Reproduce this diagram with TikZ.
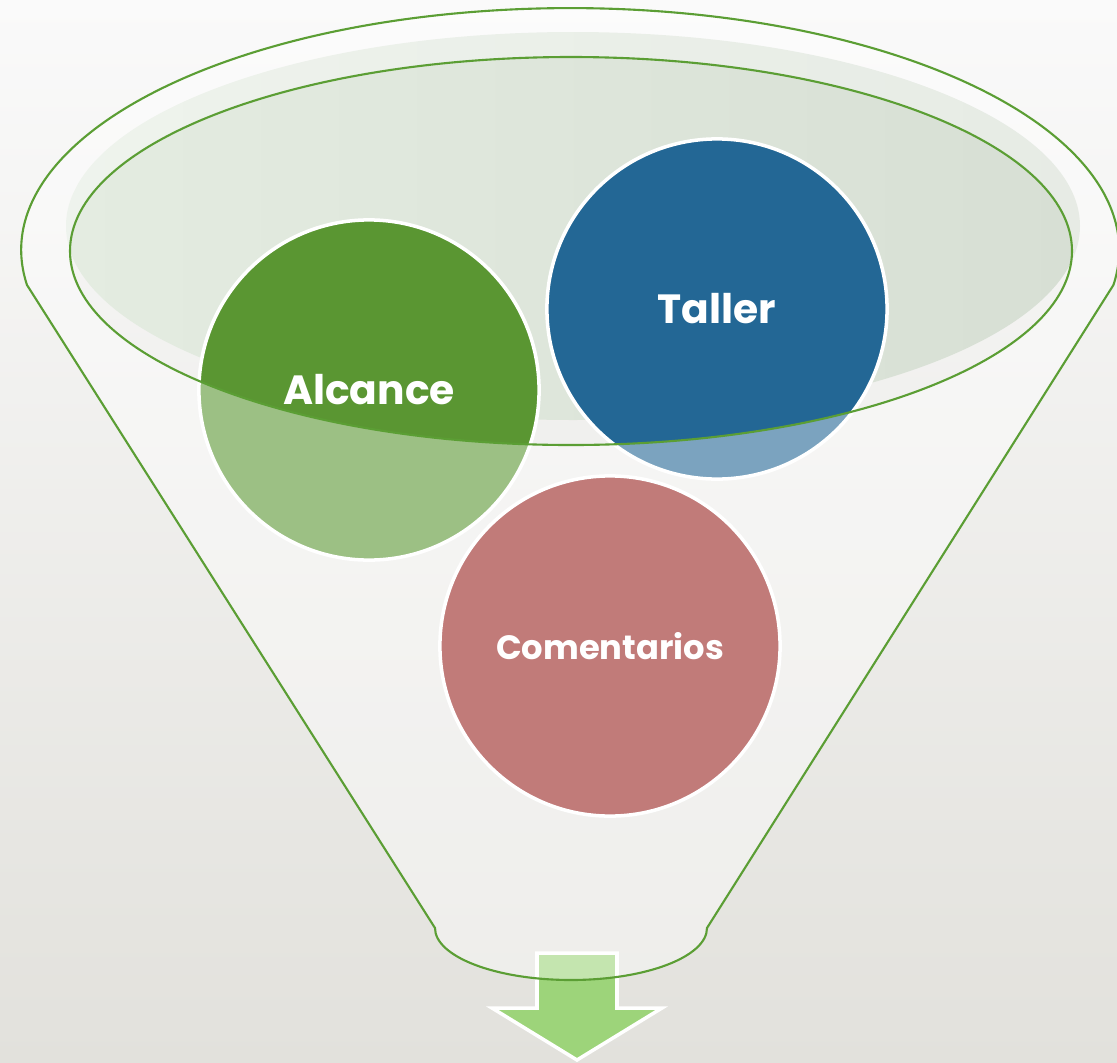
\documentclass[tikz,border=0pt]{standalone}
\usepackage{fontspec}
\setmainfont{Poppins}

\definecolor{bgtop}{HTML}{FAFAFA}
\definecolor{bgbot}{HTML}{E2E1DC}
\definecolor{openl}{HTML}{E4ECE1}
\definecolor{openr}{HTML}{D7DFD4}
\definecolor{rimgreen}{HTML}{5B9E34}
\definecolor{alcgreen}{HTML}{5A9632}
\definecolor{talblue}{HTML}{236795}
\definecolor{comred}{HTML}{982321}
\definecolor{outgreen}{HTML}{9DD47A}

\begin{document}
\begin{tikzpicture}[x=0.01cm, y=0.01cm,
	bubble/.style={circle, draw=white, line width=1pt, minimum size=3.4cm, inner sep=0pt, text=white},
	rim/.style={draw=rimgreen, line width=0.6pt}]
		\useasboundingbox (0,0) rectangle (1117,-1063);
		\shade[shading angle=45, top color=bgtop, bottom color=bgbot] (0,0) rectangle (1117,-1063);
		\shade[left color=openl, right color=openr] (573,-226) ellipse [x radius=507, y radius=194];
		\draw[white, line width=1pt, fill=outgreen] (537,-953) -- (617,-953) -- (617,-1008) -- (662,-1008) -- (577,-1060) -- (492,-1008) -- (537,-1008) -- cycle;
		\foreach \name / \x / \y / \col / \sz / \txt in {alcance/369/390/alcgreen/11.6/Alcance, taller/717/309/talblue/11.6/Taller, comentarios/610/646/comred/9.6/Comentarios} { \node[bubble, fill=\col, font=\fontsize{\sz}{14}\selectfont\bfseries] (\name) at (\x,-\y) {\txt};}
		\filldraw[rim, fill=white, fill opacity=0.4, even odd rule] (27,-285) arc [start angle=188.3, end angle=-8.3, x radius=549, y radius=242] -- (707,-928) arc [start angle=0, end angle=-180, x radius=136, y radius=52] -- cycle (571,-251) ellipse [x radius=501, y radius=194];
	\end{tikzpicture}
\end{document}
